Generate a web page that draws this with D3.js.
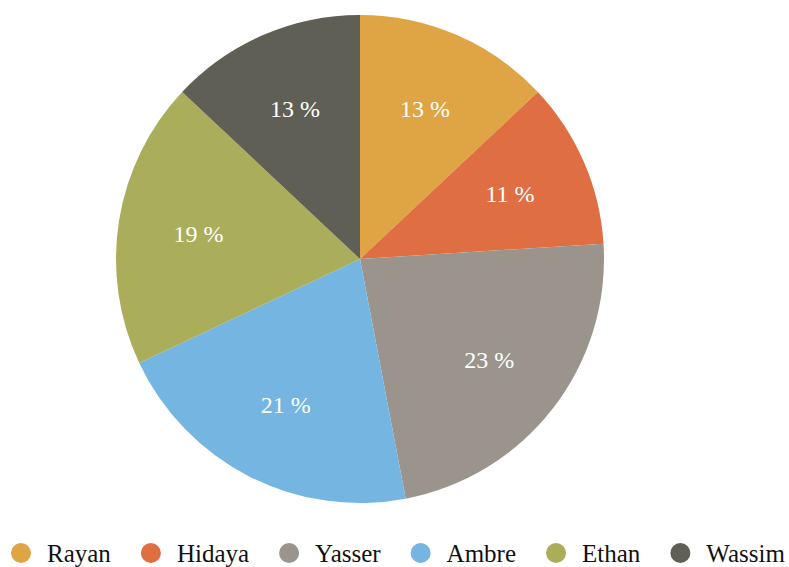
<!DOCTYPE html>
<html>
<head>
<meta charset="utf-8">
<script src="https://cdn.jsdelivr.net/npm/d3@7"></script>
<style>
  body { margin: 0; background: #fff; }
  svg { display: block; }
  text { font-family: 'Liberation Serif', 'DejaVu Serif', serif; }
</style>
</head>
<body>
<div id="viz"></div>
<script>
// pie chart with a legend row under it
const names = ["Rayan", "Hidaya", "Yasser", "Ambre", "Ethan", "Wassim"];
const shares = [13, 11, 23, 21, 19, 13];
const colors = ["#dfa444", "#df6e43", "#9a948d", "#74b5e2", "#aaad5a", "#5f5f55"];

const width = 789, height = 567;
const cx = 360, cy = 259, radius = 244;

const svg = d3.select('#viz').append('svg')
    .attr('width', width)
    .attr('height', height);

const data = names.map((n, i) => ({ name: n, value: shares[i] }));

const color = d3.scaleOrdinal().domain(names).range(colors);

const pie = d3.pie().value(d => d.value).sort(null);
const arc = d3.arc().innerRadius(0).outerRadius(radius);
const labelArc = d3.arc().innerRadius(radius * 0.67).outerRadius(radius * 0.67);

const g = svg.append('g').attr('transform', `translate(${cx},${cy})`);

const slices = pie(data);

g.selectAll('path')
    .data(slices)
    .enter()
    .append('path')
        .attr('d', arc)
        .attr('fill', d => color(d.data.name));

g.selectAll('text')
    .data(slices)
    .enter()
    .append('text')
        .attr('transform', d => `translate(${labelArc.centroid(d)})`)
        .attr('text-anchor', 'middle')
        .attr('dy', '0.35em')
        .attr('fill', '#fff')
        .style('font-size', '24px')
        .text(d => d.data.value + ' %');

// legend: circle, name, then a gap
const legend = svg.append('g').attr('transform', 'translate(11,553)');
let x = 0;
names.forEach((n, i) => {
    const item = legend.append('g').attr('transform', `translate(${x},0)`);
    item.append('circle')
        .attr('cx', 10)
        .attr('cy', 0)
        .attr('r', 10)
        .attr('fill', color(n));
    const t = item.append('text')
        .attr('x', 36)
        .attr('dy', '0.35em')
        .attr('fill', '#111')
        .style('font-size', '25px')
        .text(n);
    x += 36 + t.node().getComputedTextLength() + 30;
});
</script>
</body>
</html>
